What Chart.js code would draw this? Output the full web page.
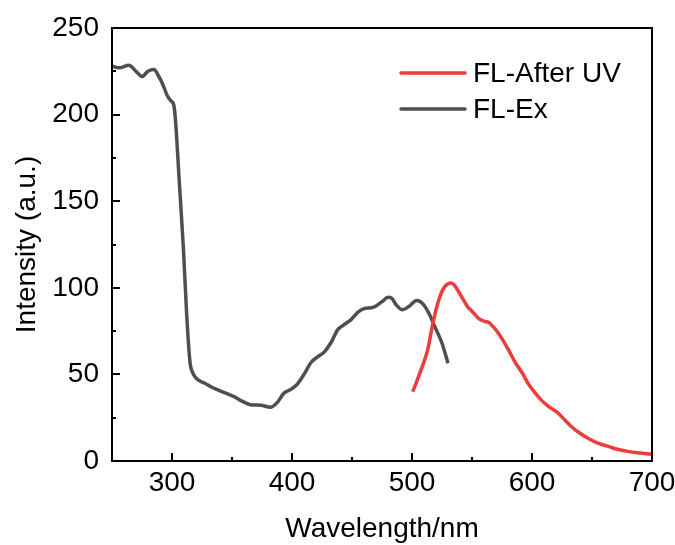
<!DOCTYPE html>
<html>
<head>
<meta charset="utf-8">
<script src="https://cdn.jsdelivr.net/npm/chart.js@4/dist/chart.umd.min.js"></script>
<style>
  html, body { margin: 0; padding: 0; background: #fff; }
  #wrap { width: 675px; height: 545px; position: relative; }
</style>
</head>
<body>
<div id="wrap"><canvas id="c" width="675" height="545"></canvas></div>
<script>
// ---- Data ----
const uvWavelength = [500.6, 504, 507.5, 513, 516.7, 520, 522.8, 525.6, 529, 532.5, 535, 539.5, 542.5, 546.4, 550, 556, 561, 564, 567, 571, 576, 580.5, 586, 592, 597, 603, 608, 614, 622, 627, 633, 640, 647, 655, 664, 672, 680.5, 690, 698.6, 700];
const uvIntensity  = [40, 46, 52.6, 64, 77, 87.3, 94, 98.8, 101.8, 102.7, 101.8, 97, 93.5, 89, 86.5, 82, 80.5, 80, 78, 74.8, 69.5, 64, 57, 50.7, 44.5, 39, 35, 31.4, 27.5, 24, 19.8, 16, 13, 10.3, 8.3, 6.6, 5.4, 4.6, 4, 3.9];

const exWavelength = [250, 256, 264, 270, 275, 280, 285, 289, 292, 296, 299, 301.4, 303, 306, 309.4, 312.2, 315, 317.2, 321.4, 327, 332, 340, 352, 360, 366, 374, 382, 388, 393, 398, 404, 410, 416, 421, 427, 433, 438, 444, 449, 455, 460, 466, 470, 475, 480, 483, 487, 492, 497, 504, 508, 511, 515, 519, 525, 530];
const exIntensity  = [228, 227, 228.5, 225, 222, 225, 226, 222, 218, 211, 208, 205.8, 196, 162, 124, 85, 57, 51, 47, 45, 43, 40.5, 37, 34, 32.4, 32.2, 31, 34, 39, 41, 44, 50, 57, 60, 63, 69, 75.7, 79, 81.5, 86, 88, 88.5, 89.5, 92, 94.5, 94, 90, 87.3, 89, 92.7, 91.5, 89, 84, 77.6, 68, 56.5];

const seriesLabels = ['FL-After UV', 'FL-Ex'];
const xTickValues = [300, 400, 500, 600, 700];
const xMinorTicks = [350, 450, 550, 650];
const yTickValues = [0, 50, 100, 150, 200, 250];
const yMinorTicks = [25, 75, 125, 175, 225];

const toPoints = (xs, ys) => xs.map((x, i) => ({x: x, y: ys[i]}));

const FONT = "'Liberation Sans', Arial, sans-serif";
const RED = '#ee3b3b';
const GRAY = '#4f4f4f';

const framePlugin = {
  id: 'framePlugin',
  afterDatasetsDraw(chart) {
    const {ctx, chartArea: a, scales} = chart;
    const xs = scales.x, ys = scales.y;
    ctx.save();
    ctx.strokeStyle = '#000';
    ctx.lineWidth = 2;
    ctx.lineCap = 'butt';
    // ticks (inward)
    ctx.beginPath();
    xTickValues.forEach(v => { const p = Math.round(xs.getPixelForValue(v)) ; ctx.moveTo(p, a.bottom); ctx.lineTo(p, a.bottom - 8); });
    xMinorTicks.forEach(v => { const p = Math.round(xs.getPixelForValue(v)); ctx.moveTo(p, a.bottom); ctx.lineTo(p, a.bottom - 4); });
    yTickValues.forEach(v => { const p = Math.round(ys.getPixelForValue(v)); ctx.moveTo(a.left, p); ctx.lineTo(a.left + 8, p); });
    yMinorTicks.forEach(v => { const p = Math.round(ys.getPixelForValue(v)); ctx.moveTo(a.left, p); ctx.lineTo(a.left + 4, p); });
    ctx.stroke();
    // frame
    ctx.strokeRect(a.left, a.top, a.right - a.left, a.bottom - a.top);
    // legend
    const items = [[seriesLabels[0], RED, 73], [seriesLabels[1], GRAY, 109]];
    ctx.font = '28px ' + FONT;
    ctx.textBaseline = 'middle';
    ctx.textAlign = 'left';
    items.forEach(([label, color, y]) => {
      ctx.strokeStyle = color;
      ctx.lineWidth = 3.5;
      ctx.lineCap = 'round';
      ctx.beginPath();
      ctx.moveTo(401, y); ctx.lineTo(465, y);
      ctx.stroke();
      ctx.fillStyle = '#000';
      ctx.fillText(label, 473, y + 1);
    });
    ctx.restore();
  }
};

new Chart(document.getElementById('c'), {
  type: 'line',
  data: {
    datasets: [
      { label: seriesLabels[0], data: toPoints(uvWavelength, uvIntensity), borderColor: RED, borderWidth: 3.5, pointRadius: 0, cubicInterpolationMode: 'monotone', fill: false },
      { label: seriesLabels[1], data: toPoints(exWavelength, exIntensity), borderColor: GRAY, borderWidth: 3.5, pointRadius: 0, cubicInterpolationMode: 'monotone', fill: false }
    ]
  },
  options: {
    responsive: false,
    animation: false,
    devicePixelRatio: 1,
    layout: { padding: { top: 28, right: 23, left: 0, bottom: 0 } },
    plugins: { legend: { display: false }, tooltip: { enabled: false } },
    scales: {
      x: {
        type: 'linear', min: 250, max: 700,
        grid: { display: false, drawTicks: false },
        border: { display: false },
        afterBuildTicks: s => { s.ticks = xTickValues.map(v => ({value: v})); },
        afterFit: s => { s.height = 84; s.paddingLeft = 0; s.paddingRight = 0; },
        ticks: { color: '#000', font: { family: FONT, size: 28 }, padding: 5, maxRotation: 0 },
        title: { display: true, text: 'Wavelength/nm', color: '#000', font: { family: FONT, size: 28, lineHeight: 1 }, padding: { top: 0, bottom: 2 } }
      },
      y: {
        type: 'linear', min: 0, max: 250,
        grid: { display: false, drawTicks: false },
        border: { display: false },
        afterBuildTicks: s => { s.ticks = yTickValues.map(v => ({value: v})); },
        afterFit: s => { s.width = 112; s.paddingTop = 0; s.paddingBottom = 0; },
        ticks: { color: '#000', font: { family: FONT, size: 28 }, padding: 13 },
        title: { display: true, text: 'Intensity (a.u.)', color: '#000', font: { family: FONT, size: 28, lineHeight: 1 }, padding: { top: 13, bottom: 0 } }
      }
    }
  },
  plugins: [framePlugin]
});
</script>
</body>
</html>
